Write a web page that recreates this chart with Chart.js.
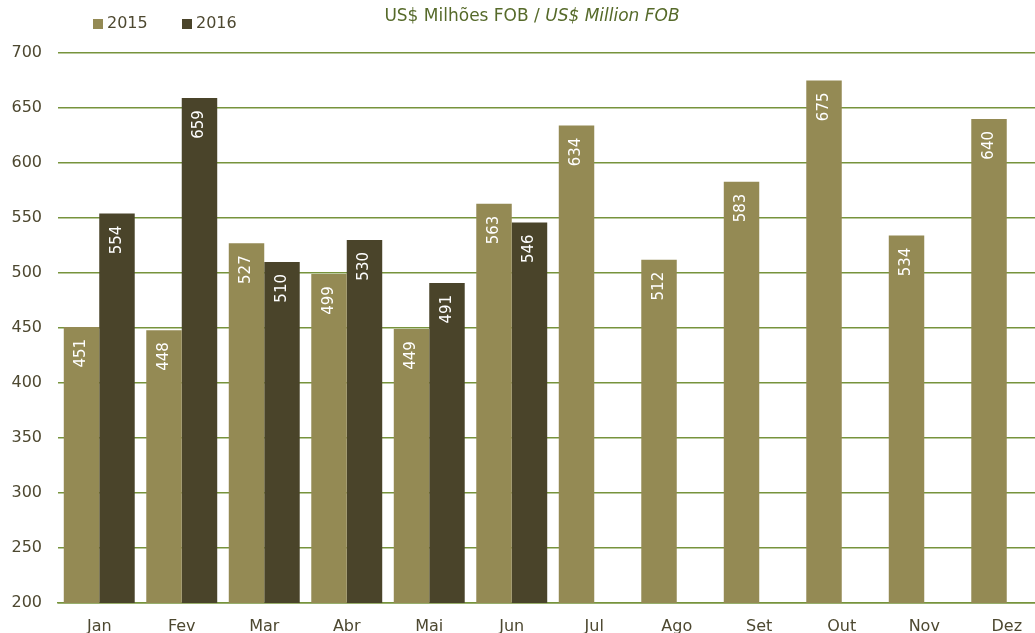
<!DOCTYPE html>
<html>
<head>
<meta charset="utf-8">
<script src="https://cdn.jsdelivr.net/npm/chart.js@4"></script>
<style>
  html, body { margin: 0; padding: 0; background: #fff; overflow: hidden; }
  #wrap { position: relative; width: 1048px; height: 633px; }
</style>
</head>
<body>
<div id="wrap"><canvas id="fobChart"></canvas></div>
<script>
const months = ['Jan', 'Fev', 'Mar', 'Abr', 'Mai', 'Jun', 'Jul', 'Ago', 'Set', 'Out', 'Nov', 'Dez'];
const values2015 = [451, 448, 527, 499, 449, 563, 634, 512, 583, 675, 534, 640];
const values2016 = [554, 659, 510, 530, 491, 546, null, null, null, null, null, null];
const yTicks = [200, 250, 300, 350, 400, 450, 500, 550, 600, 650, 700];

const FONT = '"DejaVu Sans", sans-serif';
const col2015 = '#948a54';
const col2016 = '#4a442a';
const gridCol = '#77933c';
const textCol = '#4d4830';

// value labels, rotated, inside the top of each bar
const barLabels = {
    id: 'barLabels',
    afterDatasetsDraw(chart) {
        const ctx = chart.ctx;
        ctx.save();
        ctx.font = '15px ' + FONT;
        ctx.fillStyle = '#ffffff';
        ctx.textAlign = 'right';
        ctx.textBaseline = 'middle';
        chart.data.datasets.forEach((ds, i) => {
            chart.getDatasetMeta(i).data.forEach((bar, j) => {
                if (ds.data[j] == null) return;
                ctx.save();
                ctx.translate(bar.x, bar.y + 12);
                ctx.rotate(-Math.PI / 2);
                ctx.fillText(String(ds.data[j]), 0, 0);
                ctx.restore();
            });
        });
        ctx.restore();
    }
};

// legend + subtitle at the top
const header = {
    id: 'header',
    afterDraw(chart) {
        const ctx = chart.ctx;
        ctx.save();
        ctx.textBaseline = 'middle';
        ctx.font = '16px ' + FONT;
        ctx.fillStyle = col2015;
        ctx.fillRect(93, 19, 10, 10);
        ctx.fillStyle = textCol;
        ctx.fillText('2015', 107, 24);
        ctx.fillStyle = col2016;
        ctx.fillRect(182, 19, 10, 10);
        ctx.fillStyle = textCol;
        ctx.fillText('2016', 196, 24);

        const a = 'US$ Milhões FOB / ';
        const b = 'US$ Million FOB';
        ctx.font = '17px ' + FONT;
        const wa = ctx.measureText(a).width;
        ctx.font = 'italic 17px ' + FONT;
        const wb = ctx.measureText(b).width;
        let x = 532 - (wa + wb) / 2;
        ctx.fillStyle = '#566a2a';
        ctx.font = '17px ' + FONT;
        ctx.fillText(a, x, 17);
        ctx.font = 'italic 17px ' + FONT;
        ctx.fillText(b, x + wa, 17);
        ctx.restore();
    }
};

new Chart(document.getElementById('fobChart'), {
    type: 'bar',
    data: {
        labels: months,
        datasets: [
            { label: '2015', data: values2015, backgroundColor: col2015 },
            { label: '2016', data: values2016, backgroundColor: col2016 }
        ]
    },
    options: {
        responsive: true,
        maintainAspectRatio: false,
        animation: false,
        categoryPercentage: 0.86,
        barPercentage: 1.0,
        layout: { padding: { top: 53, right: 0, left: 0, bottom: 0 } },
        plugins: { legend: { display: false }, tooltip: { enabled: false } },
        scales: {
            x: {
                grid: { display: false },
                border: { display: true, color: gridCol, width: 1.5 },
                ticks: { color: textCol, font: { family: FONT, size: 16 }, padding: 6 },
                afterFit: s => { s.height = 30; }
            },
            y: {
                min: 200,
                max: 700,
                afterBuildTicks: s => { s.ticks = yTicks.map(v => ({ value: v })); },
                grid: { color: gridCol, lineWidth: 1.5, drawTicks: false },
                border: { display: false },
                ticks: { color: textCol, font: { family: FONT, size: 16 }, padding: 16 },
                afterFit: s => { s.width = 58; }
            }
        }
    },
    plugins: [barLabels, header]
});
</script>
</body>
</html>
